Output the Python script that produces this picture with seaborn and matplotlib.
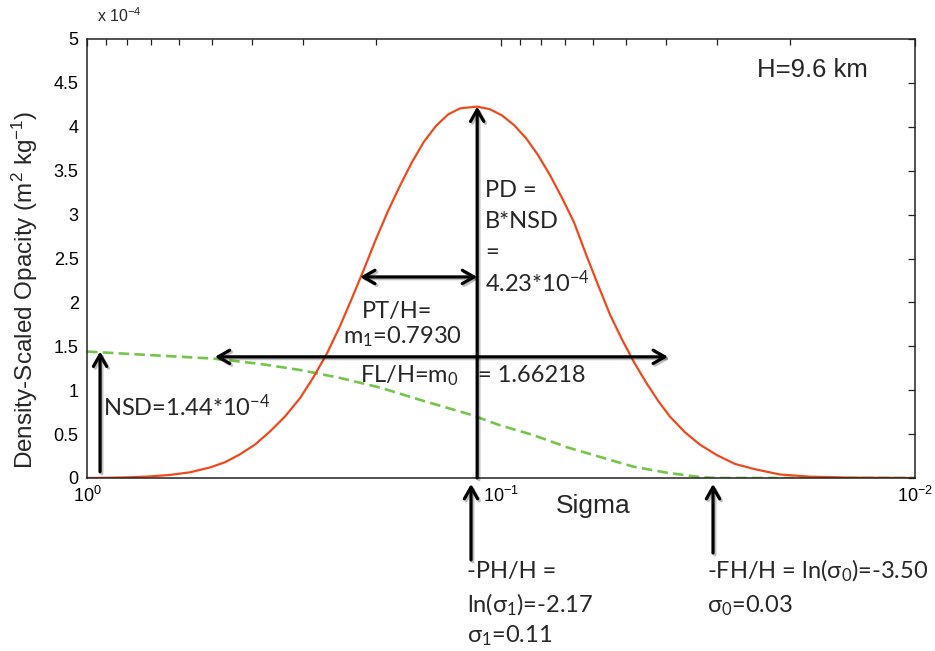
import math
import matplotlib
matplotlib.use("Agg")
import matplotlib.pyplot as plt
import matplotlib.patheffects as pe
from matplotlib.patches import FancyArrowPatch
from matplotlib.ticker import FixedLocator, FuncFormatter, LogLocator, NullFormatter
import numpy as np
import pandas as pd
import seaborn as sns

# Density-scaled opacity (units of 1e-4 m^2 kg^-1) against ln(sigma)
ln_sigma_peak = [0.0, -0.128, -0.239, -0.350, -0.462, -0.573, -0.684, -0.768, -0.851,
                 -0.934, -1.018, -1.101, -1.185, -1.257, -1.335, -1.407, -1.474, -1.541,
                 -1.607, -1.674, -1.741, -1.808, -1.874, -1.941, -2.008, -2.075, -2.17,
                 -2.241, -2.308, -2.375, -2.442, -2.508, -2.575, -2.642, -2.709, -2.775,
                 -2.842, -2.909, -2.975, -3.042, -3.109, -3.176, -3.242, -3.326, -3.409,
                 -3.504, -3.604, -3.715, -3.854, -4.021, -4.244, -4.605]
opacity_peak = [0.00, 0.003, 0.008, 0.018, 0.035, 0.065, 0.12, 0.18, 0.27,
                0.38, 0.53, 0.70, 0.91, 1.14, 1.42, 1.73, 2.05, 2.38,
                2.72, 3.04, 3.33, 3.60, 3.83, 4.01, 4.14, 4.21, 4.23,
                4.20, 4.13, 4.02, 3.87, 3.68, 3.45, 3.19, 2.91, 2.55,
                2.20, 1.86, 1.58, 1.32, 1.09, 0.88, 0.70, 0.52, 0.38,
                0.26, 0.16, 0.10, 0.04, 0.015, 0.004, 0.00]

ln_sigma_nsd = [0.0, -0.350, -0.701, -0.962, -1.185, -1.407, -1.630, -1.852, -2.136,
                -2.297, -2.481, -2.670, -2.853, -3.037, -3.226, -3.409, -3.50, -3.912, -4.605]
opacity_nsd = [1.44, 1.40, 1.36, 1.30, 1.23, 1.14, 1.03, 0.89, 0.72,
               0.60, 0.49, 0.35, 0.24, 0.13, 0.06, 0.01, 0.00, 0.00, 0.00]

# Fitted parameters quoted in the annotations
PD = 4.23
NSD = 1.44
ln_sigma1 = -2.17
sigma_pt = 0.219    # left end of the PT/H arrow
level_pt = 2.29
fl_left, fl_right, level_fl = 0.491, 0.0395, 1.38
sigma_nsd_arrow = 0.93

y_ticks = [0, 0.5, 1, 1.5, 2, 2.5, 3, 3.5, 4, 4.5, 5]
x_major = [1.0, 0.1, 0.01]

sns.set_style("white")
plt.rcParams["font.family"] = ["Liberation Sans", "DejaVu Sans"]
plt.rcParams["mathtext.default"] = "regular"

W, H = 935, 651
fig = plt.figure(figsize=(W / 100, H / 100), dpi=100)
L, R, T, B = 87, 915, 39, 478
ax = fig.add_axes([L / W, 1 - B / H, (R - L) / W, (B - T) / H])

df_peak = pd.DataFrame({"sigma": np.exp(ln_sigma_peak), "opacity": opacity_peak})
df_nsd = pd.DataFrame({"sigma": np.exp(ln_sigma_nsd), "opacity": opacity_nsd})

sns.lineplot(data=df_nsd, x="sigma", y="opacity", ax=ax, color="#74C64A",
             linewidth=1.9, linestyle=(0, (4, 2)), estimator=None, sort=False)
sns.lineplot(data=df_peak, x="sigma", y="opacity", ax=ax, color="#EE4A1E",
             linewidth=1.6, estimator=None, sort=False)

ax.set_xscale("log")
ax.set_xlim(1.0, 0.01)
ax.set_ylim(0, 5)
ax.xaxis.set_major_locator(FixedLocator(x_major))
ax.xaxis.set_major_formatter(FuncFormatter(lambda v, p: r"$10^{%d}$" % round(math.log10(v))))
ax.xaxis.set_minor_locator(LogLocator(base=10, subs=[2, 3, 4, 5, 6, 7, 8, 9]))
ax.xaxis.set_minor_formatter(NullFormatter())
ax.yaxis.set_major_locator(FixedLocator(y_ticks))
ax.yaxis.set_major_formatter(FuncFormatter(lambda v, p: "%g" % v))

for s in ax.spines.values():
    s.set_visible(True)
    s.set_color("#222222")
    s.set_linewidth(1.1)
ax.tick_params(which="both", direction="in", top=True, right=True, color="#222222",
               width=0.9, labelsize=13, labelcolor="black")
ax.tick_params(which="major", length=5, pad=6)
ax.tick_params(which="minor", length=4)

ax.set_xlabel("Sigma", fontsize=19)
ax.xaxis.set_label_coords((593 - L) / (R - L), (B - 506) / (B - T))
ax.xaxis.label.set_va("center")
ax.set_ylabel("Density-Scaled Opacity (m$^2$ kg$^{-1}$)", fontsize=17.5)
ax.yaxis.set_label_coords((25 - L) / (R - L), (B - 290) / (B - T))
ax.yaxis.label.set_va("center")


def fpx(x, y):
    return x / W, 1 - y / H


fig.text(*fpx(97, 22), "x 10$^{-4}$", fontsize=11.5, va="baseline", ha="left")
fig.text(*fpx(757, 77), "H=9.6 km", fontsize=18.5, va="baseline", ha="left")

shadow = [pe.SimpleLineShadow(offset=(1.3, -1.3), shadow_color="k", alpha=0.25), pe.Normal()]


def arrow(p0, p1, style, transform, on_axes=True):
    a = FancyArrowPatch(p0, p1, arrowstyle=style, mutation_scale=20, lw=2.3,
                        color="black", shrinkA=0, shrinkB=0, transform=transform,
                        clip_on=False, path_effects=shadow, zorder=5)
    if on_axes:
        ax.add_patch(a)
    else:
        fig.add_artist(a)


sigma1 = math.exp(ln_sigma1)
single = "->,head_length=0.42,head_width=0.24"
double = "<->,head_length=0.42,head_width=0.24"
arrow((sigma1, 0), (sigma1, PD), single, ax.transData)
arrow((sigma_nsd_arrow, 0.07), (sigma_nsd_arrow, NSD), single, ax.transData)
arrow((sigma_pt, level_pt), (sigma1, level_pt), double, ax.transData)
arrow((fl_left, level_fl), (fl_right, level_fl), double, ax.transData)
arrow(fpx(471, 560), fpx(471, 484), single, fig.transFigure, on_axes=False)
arrow(fpx(713, 553), fpx(713, 484), single, fig.transFigure, on_axes=False)

ann = dict(fontsize=17, va="baseline", ha="left", family=["Lato", "DejaVu Sans"])
fig.text(*fpx(485, 197), "PD =", **ann)
fig.text(*fpx(485, 228), "B*NSD", **ann)
fig.text(*fpx(485, 259), "=", **ann)
fig.text(*fpx(485, 292), "4.23*10$^{-4}$", **ann)
fig.text(*fpx(362, 318), "PT/H=", **ann)
fig.text(*fpx(343, 343), "m$_1$=0.7930", **ann)
fig.text(*fpx(360, 382), "FL/H=m$_0$", **ann)
fig.text(*fpx(478, 382), "= 1.66218", **ann)
fig.text(*fpx(103, 416), "NSD=1.44*10$^{-4}$", **ann)
fig.text(*fpx(467, 578), "-PH/H =", **ann)
fig.text(*fpx(467, 612), "ln(σ$_1$)=-2.17", **ann)
fig.text(*fpx(467, 642), "σ$_1$=0.11", **ann)
fig.text(*fpx(707, 578), "-FH/H = ln(σ$_0$)=-3.50", **ann)
fig.text(*fpx(707, 612), "σ$_0$=0.03", **ann)

fig.savefig("out.png", dpi=100)
